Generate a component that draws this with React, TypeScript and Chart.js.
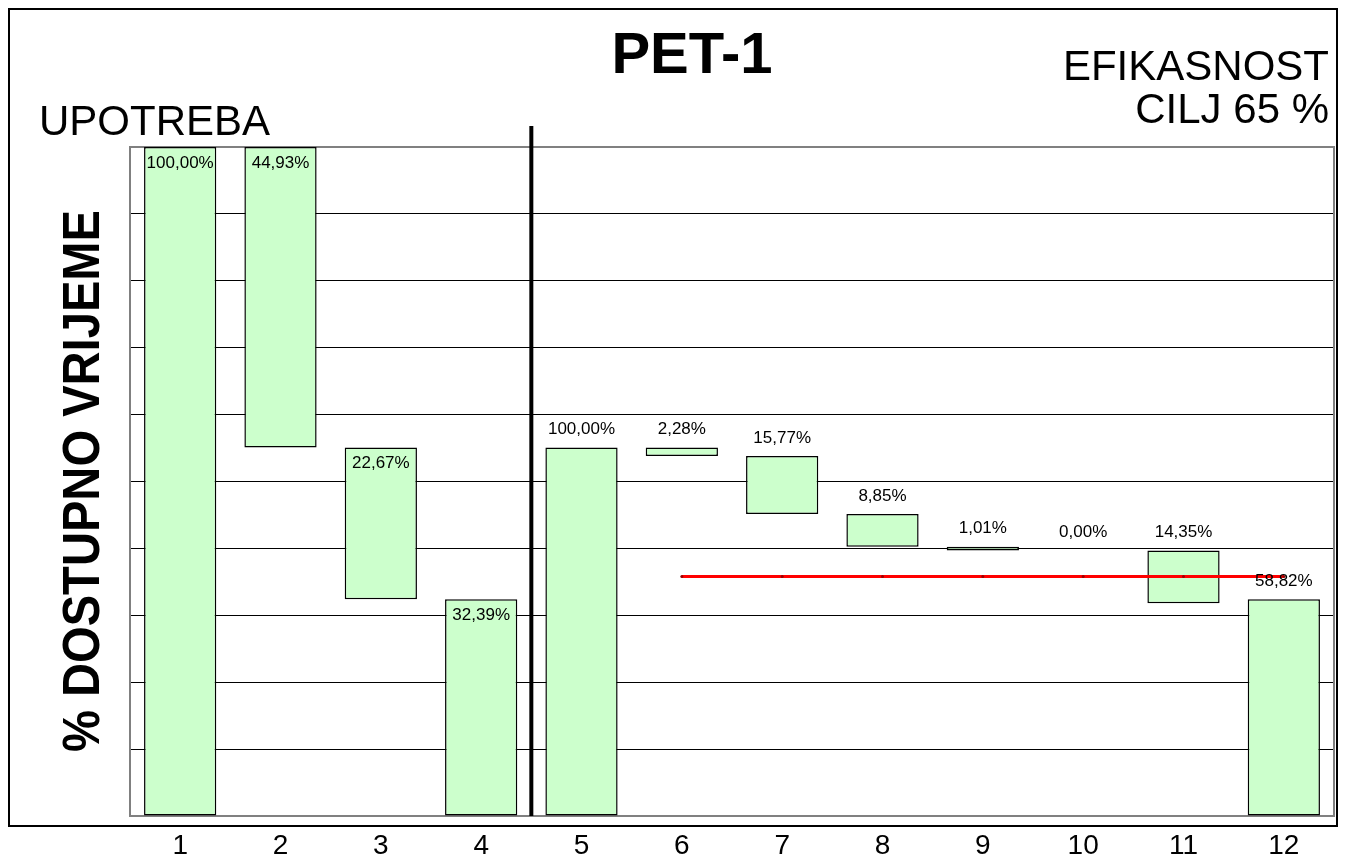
import React, { useEffect, useRef } from "react";
import { Chart, registerables } from "chart.js";

Chart.register(...registerables);

// ---- data ----
const categories = ["1", "2", "3", "4", "5", "6", "7", "8", "9", "10", "11", "12"];
const barLow = [0, 55.07, 32.4, 0, 0, 53.81, 45.13, 40.25, 39.7, 39.7, 31.8, 0];
const barHigh = [100, 100, 55.07, 32.39, 55.07, 55.07, 53.81, 45.13, 40.25, 39.7, 39.7, 32.39];
const barLabels = [
  "100,00%", "44,93%", "22,67%", "32,39%",
  "100,00%", "2,28%", "15,77%", "8,85%", "1,01%", "0,00%", "14,35%", "58,82%",
];
const targetLine = [null, null, null, null, null, 35.8, 35.8, 35.8, 35.8, 35.8, 35.8, 35.8];
const sectionSplit = 4; // first 4 categories = UPOTREBA, rest = EFIKASNOST
const titleText = "PET-1";
const leftSectionText = "UPOTREBA";
const rightSectionLines = ["EFIKASNOST", "CILJ 65 %"];
const yTitleText = "% DOSTUPNO VRIJEME";

const FONT = "'Liberation Sans', Arial, Helvetica, sans-serif";

const decorPlugin = {
  id: "decor",
  beforeDraw(chart: any) {
    const { ctx, width, height } = chart;
    ctx.save();
    ctx.fillStyle = "#ffffff";
    ctx.fillRect(0, 0, width, height);
    // outer frame
    ctx.strokeStyle = "#000000";
    ctx.lineWidth = 2;
    ctx.strokeRect(1, 1, 1328, 817);
    ctx.restore();
  },
  beforeDatasetsDraw(chart: any) {
    const { ctx, chartArea } = chart;
    ctx.save();
    ctx.strokeStyle = "#808080";
    ctx.lineWidth = 2;
    ctx.strokeRect(chartArea.left, chartArea.top, chartArea.right - chartArea.left, chartArea.bottom - chartArea.top);
    ctx.restore();
  },
  afterDatasetsDraw(chart: any) {
    const { ctx, chartArea } = chart;
    const xs = chart.scales.x;
    const ys = chart.scales.y;
    const meta = chart.getDatasetMeta(1);
    ctx.save();
    // data labels
    ctx.fillStyle = "#000000";
    ctx.font = `17px ${FONT}`;
    ctx.textAlign = "center";
    ctx.textBaseline = "middle";
    barLabels.forEach((lab, i) => {
      const el = meta.data[i];
      const x = el ? el.x : xs.getPixelForValue(i);
      const top = ys.getPixelForValue(barHigh[i]);
      const y = i < sectionSplit ? top + 16 : top - 18;
      ctx.fillText(lab, x, y);
    });
    // divider line between sections
    const xd = (xs.getPixelForValue(sectionSplit - 1) + xs.getPixelForValue(sectionSplit)) / 2;
    ctx.strokeStyle = "#000000";
    ctx.lineWidth = 4;
    ctx.beginPath();
    ctx.moveTo(xd, chartArea.top - 21);
    ctx.lineTo(xd, chartArea.bottom);
    ctx.stroke();
    ctx.restore();
  },
  afterDraw(chart: any) {
    const { ctx } = chart;
    ctx.save();
    ctx.fillStyle = "#000000";
    ctx.textBaseline = "alphabetic";
    // main title
    ctx.font = `bold 58px ${FONT}`;
    ctx.textAlign = "center";
    ctx.fillText(titleText, 684, 65);
    // right section text
    ctx.font = `42px ${FONT}`;
    ctx.textAlign = "right";
    ctx.fillText(rightSectionLines[0], 1321, 72);
    ctx.fillText(rightSectionLines[1], 1321, 115);
    // left section text
    ctx.textAlign = "left";
    ctx.fillText(leftSectionText, 31, 127);
    // y-axis title
    ctx.translate(91, 473);
    ctx.rotate(-Math.PI / 2);
    ctx.font = `bold 52px ${FONT}`;
    const w = ctx.measureText(yTitleText).width;
    ctx.scale(542 / w, 1);
    ctx.textAlign = "center";
    ctx.fillText(yTitleText, 0, 0);
    ctx.restore();
  },
};

export default function App() {
  const canvasRef = useRef<HTMLCanvasElement | null>(null);

  useEffect(() => {
    if (!canvasRef.current) return;
    const floating = barLow.map((lo, i) => [lo, barHigh[i]]);
    const chart = new Chart(canvasRef.current, {
      type: "bar",
      data: {
        labels: categories,
        datasets: [
          {
            type: "line",
            label: "Cilj",
            data: targetLine as any,
            borderColor: "#FF0000",
            borderWidth: 3,
            pointRadius: 1.5,
            pointBackgroundColor: "#990000",
            pointBorderWidth: 0,
            fill: false,
            order: 0,
          } as any,
          {
            type: "bar",
            label: "Vrijeme",
            data: floating as any,
            backgroundColor: "#CCFFCC",
            borderColor: "#000000",
            borderWidth: 1.5,
            borderSkipped: false,
            barPercentage: 0.72,
            categoryPercentage: 1,
            order: 1,
          } as any,
        ],
      },
      options: {
        responsive: false,
        animation: false,
        layout: { padding: { top: 139, right: -3, left: 0, bottom: 0 } },
        plugins: {
          legend: { display: false },
          title: { display: false },
          tooltip: { enabled: false },
        },
        scales: {
          x: {
            grid: { display: false, drawTicks: false },
            border: { display: false },
            ticks: {
              color: "#000000",
              font: { family: FONT, size: 28 },
              padding: 13,
              maxRotation: 0,
              autoSkip: false,
            },
            afterFit: (s: any) => {
              s.height = 40;
              s.paddingLeft = 0;
              s.paddingRight = 0;
            },
          },
          y: {
            min: 0,
            max: 100,
            grid: {
              color: (c: any) =>
                c.tick && (c.tick.value === 0 || c.tick.value === 100) ? "rgba(0,0,0,0)" : "#000000",
              lineWidth: 1,
              drawTicks: false,
            },
            border: { display: false },
            ticks: { display: false, stepSize: 10 },
            afterFit: (s: any) => {
              s.width = 122;
              s.paddingTop = 0;
              s.paddingBottom = 0;
            },
          },
        },
      },
      plugins: [decorPlugin],
    });
    return () => chart.destroy();
  }, []);

  return (
    <div style={{ position: "absolute", left: 8, top: 8, width: 1330, height: 848 }}>
      <canvas ref={canvasRef} width={1330} height={848} style={{ width: 1330, height: 848, display: "block" }} />
    </div>
  );
}
